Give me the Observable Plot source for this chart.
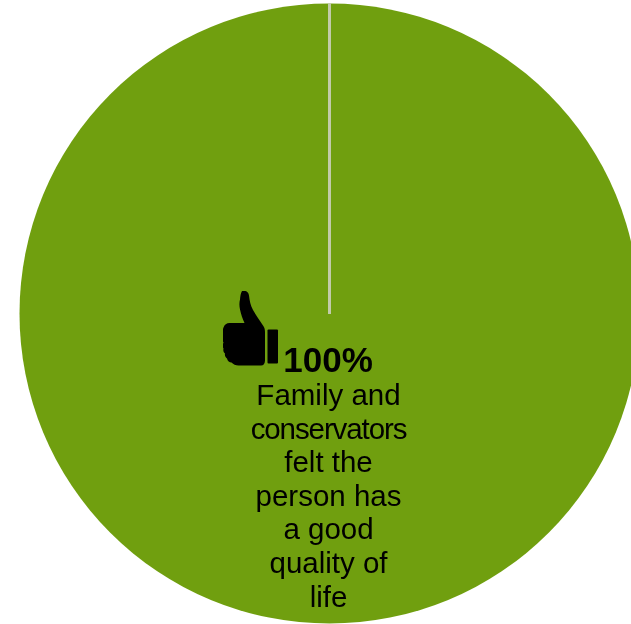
<!DOCTYPE html>
<html><head><meta charset="utf-8">
<script src="https://cdn.jsdelivr.net/npm/d3@7"></script>
<script src="https://cdn.jsdelivr.net/npm/@observablehq/plot@0.6"></script>
<style>html,body{margin:0;padding:0;background:#fff;overflow:hidden}svg{display:block;filter:blur(0.5px)}</style>
</head><body><div id="chart"></div>
<script>
const categories = ["Good quality of life"];
const shares = [100];
const headline = "100%";
const captionLines = ["Family and","conservators","felt the","person has","a good","quality of","life"];

const thumb = "data:image/svg+xml," + encodeURIComponent(
`<svg xmlns="http://www.w3.org/2000/svg" viewBox="0 0 56 76"><path fill="#000" d="M20 0.5c3-.8 6 .8 6.5 4.500 .6 5 1.500 10 4 14.500 2.500 4.500 7 11 10 15.500 1.500 2 2 4 2 6.500V70c0 3-1.500 5-4 5H16c-3 0-5-1-7-3-2 0-4-1.500-4.500-4-1.500-.8-2.500-3-2-5-1.500-1-2-3-1.500-5-1-1.500-1-4 0-6-1-1.500-1-3.500-.5-5 0-5-.5-8 .5-10 1-3 3-4.500 6-4.500H22c-2-4-3.500-9-4.500-13.500-.8-3.500-.8-7 0-10 .2-3 1-8 2.500-9z"/><rect x="45" y="39" width="10.500" height="34" rx="1" fill="#000"/></svg>`);

const slices = categories.map((category, i) => ({category, share: shares[i]}));
const cx = 329, cy = 313;

const tighten = (spacing) => (index, scales, values, dimensions, context, next) => {
  const g = next(index, scales, values, dimensions, context);
  g.setAttribute("letter-spacing", spacing);
  return g;
};

const chart = Plot.plot({
  width: 631, height: 624,
  margin: 0,
  style: {background: "#fff", overflow: "hidden"},
  x: {domain: [0, 631], range: [0, 631], axis: null},
  y: {domain: [0, 624], range: [0, 624], axis: null},
  r: {domain: [0, 100], range: [0, 310]},
  color: {domain: categories, range: ["#709f0f"]},
  marks: [
    Plot.dot(slices, {x: () => cx, y: () => cy, r: "share", fill: "category", stroke: null}),
    Plot.ruleX(slices, {x: () => cx, y1: () => 3, y2: () => cy + 1, stroke: "#c2cbaa", strokeWidth: 3}),
    Plot.image(slices, {x: () => 250, y: () => 328, width: 56, height: 76, src: () => thumb}),
    Plot.text([headline], {x: () => 327.5, y: () => 360, text: d => d, fontFamily: "Liberation Sans", fontWeight: "bold", fontSize: 35, fill: "#000"}),
    ...captionLines.map((line, i) =>
      Plot.text([line], {
        x: () => 328, y: () => 395 + i * 33.6, text: d => d,
        fontFamily: "Liberation Sans", fontSize: 29.5,
        fill: "#000",
        render: tighten(line.length === 12 ? "-1.1px" : "0px")
      }))
  ]
});
document.getElementById("chart").appendChild(chart);
</script></body></html>
